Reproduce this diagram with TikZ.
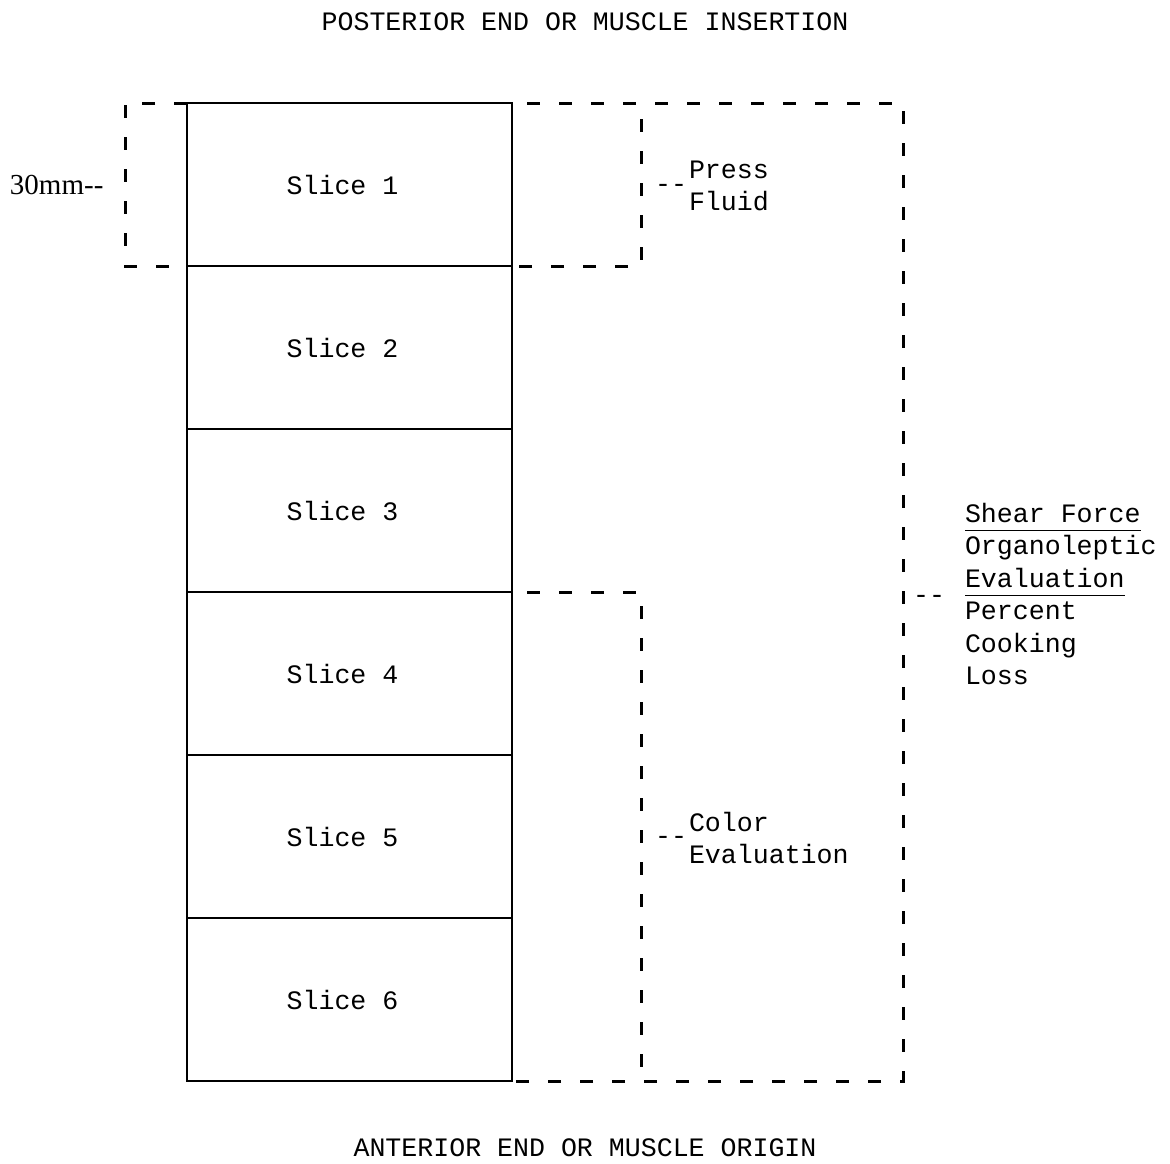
\documentclass[tikz,border=0pt]{standalone}
\usepackage{fontspec}
\setmainfont{Liberation Serif}
\newfontfamily\typewriter{Liberation Mono}
\usetikzlibrary{positioning}

\newcommand{\typed}{\typewriter\fontsize{13.3}{16.2}\selectfont}
\newcommand{\uline}[1]{\underline{#1\vphantom{g}}}

\begin{document}
\begin{tikzpicture}[
  x=0.5pt, y=-0.5pt,
  every node/.style={
    rectangle, inner sep=0pt, outer sep=0pt,
  },
  slice/.style={draw, line width=1pt, minimum width=162.5pt, minimum height=81.5pt, font=\typed,
    execute at end node={\hspace*{7pt}}},
  bracket/.style={line width=1.5pt, dash pattern=on 6.5pt off 9.5pt},
  label/.style={font=\typed, align=left, anchor=west}
]
\useasboundingbox (0,0) rectangle (1170,1163);

\node[font=\typed] (posterior) at (585,22) {POSTERIOR END OR MUSCLE INSERTION};
\node[font=\typed] (anterior) at (585,1148) {ANTERIOR END OR MUSCLE ORIGIN};

\node[slice] (s1) at (349.5,184.5) {Slice 1};
\node[slice,below=0pt of s1] (s2) {Slice 2};
\node[slice,below=0pt of s2] (s3) {Slice 3};
\node[slice,below=0pt of s3] (s4) {Slice 4};
\node[slice,below=0pt of s4] (s5) {Slice 5};
\node[slice,below=0pt of s5] (s6) {Slice 6};

% brackets
\draw[bracket] (s1.north west) -| ([xshift=-31pt]s1.south west) -- (s1.south west);
\draw[bracket,dash phase=-7.5pt] (s1.north east) -| ([xshift=195.5pt]s6.south east) -- (s6.south east);
\draw[bracket] ([xshift=64.5pt,yshift=-8pt]s1.north east) -- ([xshift=64.5pt]s1.south east) -- (s1.south east);
\draw[bracket,dash phase=-7.5pt] (s4.north east) -| ([xshift=64.5pt]s6.south east);

% labels
\node[font=\fontsize{14.5}{16}\selectfont, anchor=west] (mm) at (10,185) {30mm{-}{-}};

\node[font=\typed] (pressdash) at (671,188) {--};
\node[label] (press) at (689,186) {Press\\Fluid};

\node[font=\typed] (colordash) at (671,840) {--};
\node[label] (color) at (689,838) {Color\\Evaluation};

\node[font=\typed] (sheardash) at (929,599) {--};
\node[label] (shear) at (965,594) {\uline{Shear Force}\\Organoleptic\\\uline{Evaluation}\\Percent\\Cooking\\Loss};
\end{tikzpicture}
\end{document}
